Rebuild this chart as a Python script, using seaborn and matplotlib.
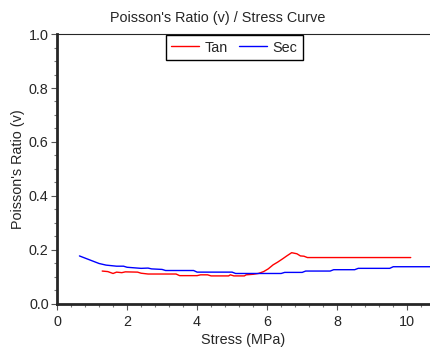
import numpy as np
import pandas as pd
import matplotlib
matplotlib.use("Agg")
import matplotlib.pyplot as plt
from matplotlib.ticker import MultipleLocator
import seaborn as sns

# values
sec_stress = [0.64, 0.8, 1.0, 1.2, 1.4, 1.7, 1.9, 2.0, 2.4, 2.6, 2.7, 3.0, 3.1, 3.9,
              4.0, 5.0, 5.1, 6.4, 6.5, 7.0, 7.1, 7.8, 7.9, 8.5, 8.6, 9.5, 9.6, 10.7]
sec_ratio = [0.178, 0.170, 0.160, 0.150, 0.144, 0.140, 0.140, 0.136, 0.132, 0.133,
             0.130, 0.128, 0.124, 0.124, 0.118, 0.118, 0.113, 0.113, 0.117, 0.117,
             0.122, 0.122, 0.127, 0.127, 0.132, 0.132, 0.138, 0.138]

tan_stress = [1.29, 1.45, 1.6, 1.7, 1.85, 1.95, 2.3, 2.4, 2.6, 3.4, 3.5, 4.0, 4.1, 4.3,
              4.4, 4.9, 4.95, 5.05, 5.35, 5.4, 5.6, 5.75, 5.9, 6.03, 6.17, 6.3, 6.45,
              6.56, 6.7, 6.85, 6.95, 7.05, 7.15, 10.1]
tan_ratio = [0.122, 0.120, 0.113, 0.118, 0.116, 0.119, 0.118, 0.114, 0.111, 0.111,
             0.105, 0.105, 0.108, 0.108, 0.104, 0.104, 0.108, 0.104, 0.104, 0.108,
             0.110, 0.113, 0.120, 0.130, 0.145, 0.155, 0.168, 0.178, 0.190, 0.186,
             0.178, 0.177, 0.172, 0.172]

df = pd.concat([
    pd.DataFrame({"stress": tan_stress, "ratio": tan_ratio, "curve": "Tan"}),
    pd.DataFrame({"stress": sec_stress, "ratio": sec_ratio, "curve": "Sec"}),
], ignore_index=True)

FS = 10.4

sns.set_style("ticks")
plt.rcParams["font.family"] = ["Liberation Sans", "DejaVu Sans"]

fig = plt.figure(figsize=(4.3, 3.52), dpi=100)
ax = fig.add_axes([0.1326, 0.1364, 0.8674, 0.767])

sns.lineplot(data=df, x="stress", y="ratio", hue="curve", sort=False,
             palette={"Tan": "#ff0000", "Sec": "#0000ff"}, linewidth=1.0,
             estimator=None, ax=ax)

ax.set_xlim(0, 10.65)
ax.set_ylim(0, 1.0)
ax.xaxis.set_major_locator(MultipleLocator(2))
ax.xaxis.set_minor_locator(MultipleLocator(0.4))
ax.yaxis.set_major_locator(MultipleLocator(0.2))
ax.yaxis.set_minor_locator(MultipleLocator(0.05))
ax.yaxis.set_major_formatter(plt.FormatStrFormatter("%.1f"))
ax.tick_params(which="major", length=4, width=0.8, color="#555555", labelsize=FS)
ax.tick_params(axis="x", which="major", pad=4)
ax.tick_params(axis="y", which="major", pad=2)
ax.tick_params(which="minor", length=2.5, width=0.8, color="#777777")

for side in ["left", "bottom"]:
    ax.spines[side].set_linewidth(2)
ax.spines["top"].set_linewidth(0.8)
ax.spines["right"].set_visible(False)

ax.set_xlabel("Stress (MPa)", fontsize=FS, labelpad=3)
ax.set_ylabel("Poisson's Ratio (v)", fontsize=FS, labelpad=3)
ax.set_title("Poisson's Ratio (v) / Stress Curve", fontsize=FS, pad=9, x=0.432)

leg = ax.legend(loc="upper center", bbox_to_anchor=(0.475, 1.0), ncol=2,
                fontsize=FS, frameon=True, fancybox=False, framealpha=1,
                handlelength=1.95, handletextpad=0.4, columnspacing=0.75,
                borderpad=0.35, borderaxespad=0.1)
leg.get_frame().set_edgecolor("black")
leg.get_frame().set_linewidth(1.0)

fig.savefig("out.png", dpi=100)
